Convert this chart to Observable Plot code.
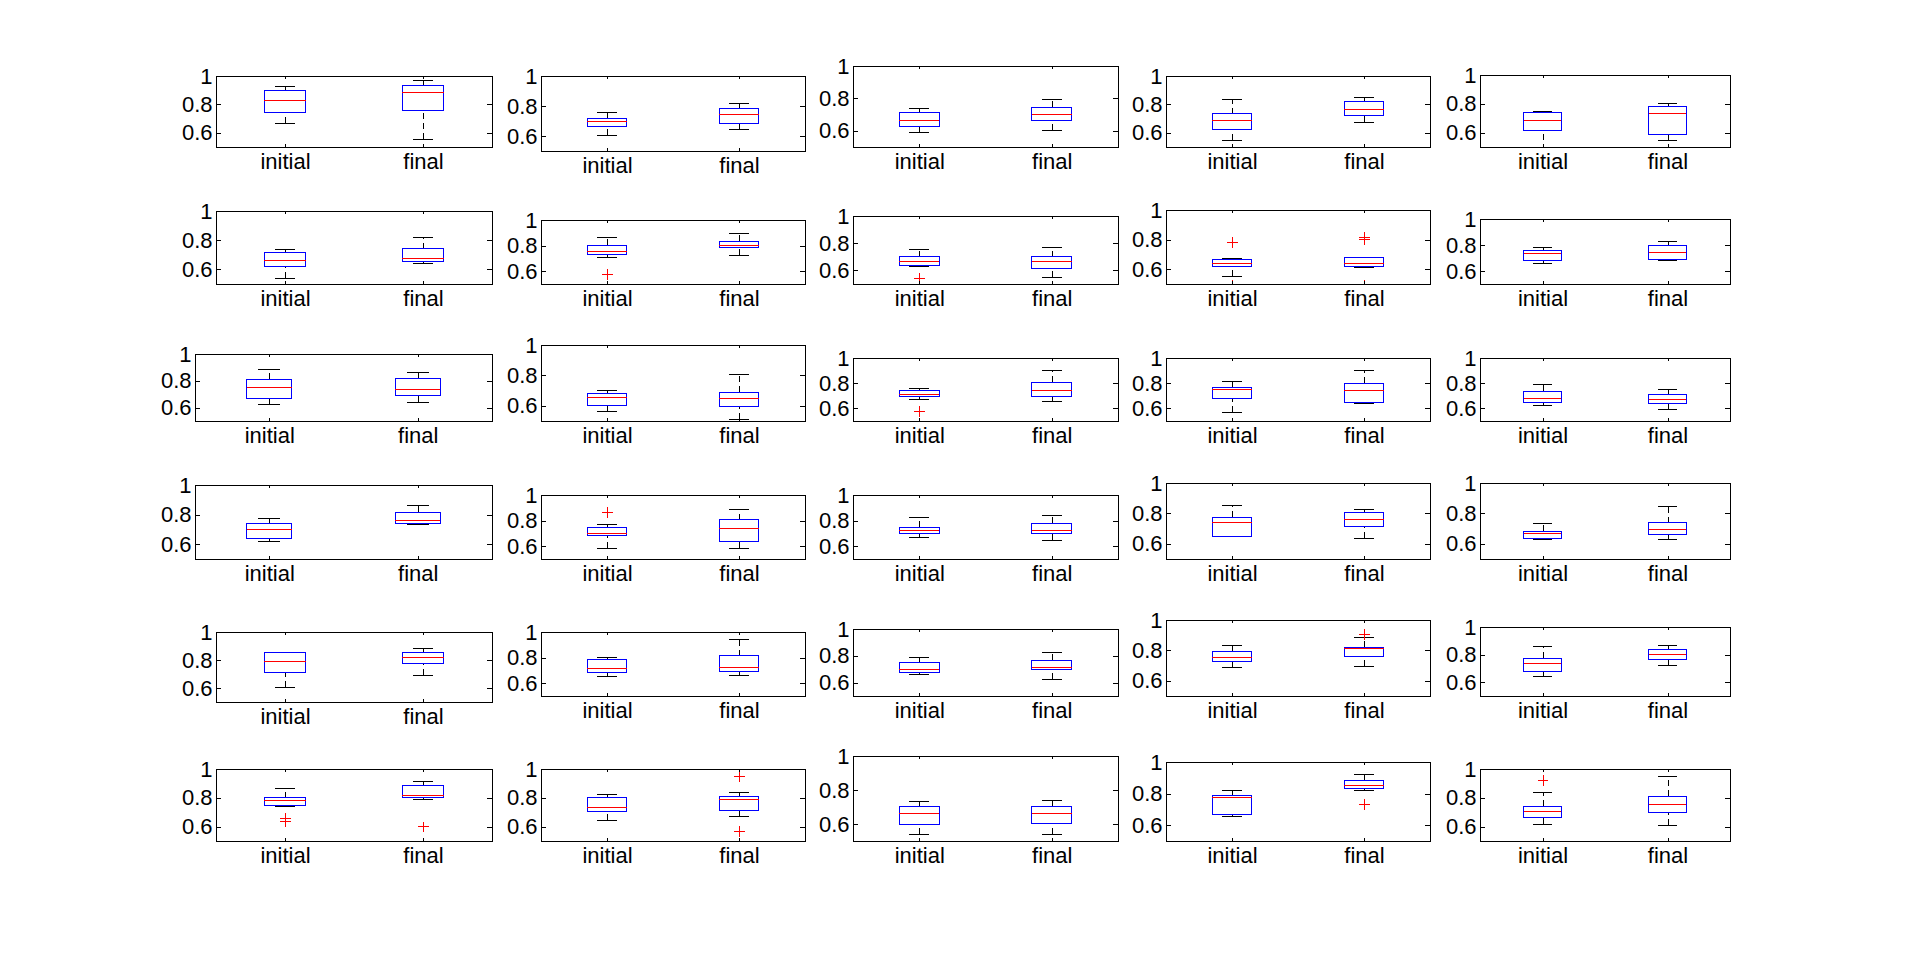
<!DOCTYPE html>
<html><head><meta charset="utf-8">
<script src="https://cdn.jsdelivr.net/npm/d3@7"></script>
<script src="https://cdn.jsdelivr.net/npm/@observablehq/plot@0.6"></script>
<style>
html,body{margin:0;padding:0;background:#fff;}
#fig{position:relative;width:1920px;height:964px;background:#fff;overflow:hidden;}
#fig svg{position:absolute;overflow:visible;}
</style></head><body><div id="fig"></div>
<script>
// ---------- DATA (30 panels, row-major 6 rows x 5 cols) ----------
const categories = ["initial", "final"];
const yTicks = [0.6, 0.8, 1];
const yDomain = [0.5, 1];

const initLow = [0.667,0.604,0.592,0.547,0.480, 0.539,0.708,0.630,0.552,0.659, 0.624,0.564,0.672,0.569,0.624, 0.621,0.586,0.672,0.651,0.632, 0.610,0.653,0.662,0.689,0.643, 0.745,0.643,0.539,0.657,0.616];
const initQ1  = [0.740,0.664,0.629,0.621,0.618, 0.621,0.732,0.637,0.619,0.682, 0.669,0.603,0.696,0.680,0.648, 0.641,0.680,0.703,0.651,0.638, 0.710,0.684,0.677,0.728,0.679, 0.747,0.705,0.598,0.669,0.665];
const initMed = [0.828,0.698,0.666,0.691,0.688, 0.662,0.755,0.666,0.640,0.736, 0.751,0.656,0.712,0.751,0.680, 0.702,0.703,0.727,0.743,0.671, 0.795,0.715,0.699,0.754,0.737, 0.788,0.733,0.663,0.778,0.707];
const initQ3  = [0.898,0.718,0.715,0.733,0.743, 0.717,0.802,0.702,0.667,0.759, 0.811,0.682,0.743,0.767,0.735, 0.742,0.750,0.750,0.776,0.684, 0.852,0.785,0.751,0.794,0.773, 0.802,0.802,0.704,0.790,0.742];
const initHigh= [0.928,0.758,0.740,0.837,0.750, 0.737,0.870,0.754,0.673,0.782, 0.886,0.702,0.759,0.815,0.791, 0.776,0.773,0.828,0.855,0.737, 0.860,0.801,0.789,0.833,0.860, 0.871,0.829,0.733,0.822,0.840];

const finLow  = [0.556,0.644,0.605,0.677,0.551, 0.642,0.724,0.549,0.617,0.682, 0.639,0.511,0.656,0.640,0.593, 0.735,0.586,0.648,0.638,0.632, 0.695,0.661,0.624,0.695,0.722, 0.795,0.671,0.539,0.822,0.609];
const finQ1   = [0.758,0.684,0.662,0.719,0.590, 0.655,0.784,0.615,0.619,0.690, 0.692,0.596,0.696,0.648,0.640, 0.742,0.633,0.703,0.711,0.658, 0.774,0.692,0.699,0.761,0.766, 0.802,0.712,0.604,0.835,0.700];
const finMed  = [0.884,0.744,0.703,0.767,0.738, 0.678,0.802,0.666,0.640,0.744, 0.736,0.649,0.743,0.743,0.672, 0.762,0.742,0.727,0.763,0.697, 0.824,0.723,0.714,0.814,0.802, 0.816,0.795,0.663,0.854,0.756];
const finQ3   = [0.935,0.784,0.746,0.823,0.778, 0.740,0.833,0.702,0.680,0.797, 0.818,0.689,0.807,0.799,0.712, 0.816,0.805,0.781,0.809,0.737, 0.852,0.816,0.766,0.820,0.838, 0.885,0.809,0.704,0.886,0.812];
const finHigh = [0.974,0.818,0.795,0.851,0.806, 0.820,0.896,0.771,0.680,0.828, 0.868,0.807,0.902,0.902,0.751, 0.863,0.891,0.844,0.829,0.849, 0.888,0.948,0.826,0.886,0.867, 0.919,0.843,0.739,0.924,0.951];

// outliers: panel index, group (0 initial, 1 final), value
const outPanel = [6, 7, 7, 8, 8, 8, 8, 8, 12, 16, 23, 25, 25, 25, 26, 26, 28, 29];
const outGroup = [0, 0, 0, 0, 0, 1, 1, 1, 0,  0,  1,  0,  0,  1,  1,  1,  1,  0];
const outValue = [0.576,0.542,0.547,0.782,0.492,0.815,0.805,0.492,0.577,0.867,0.906,0.657,0.636,0.601,0.954,0.567,0.733,0.923];

// ---------- LAYOUT (frame rectangles in page pixels) ----------
const colLeft  = [216, 541, 853, 1166, 1480];
const colRight = [492, 805, 1118, 1430, 1730];
const col1LeftWide = 195; // rows 3 and 4
const panelTop = [76,76,66,76,75, 211,220,216,210,219, 354,345,358,358,358, 485,495,495,483,483, 632,632,629,620,627, 769,769,756,762,769];
const panelBottom = [147,151,147,147,147, 284,284,284,284,284, 421,421,421,421,421, 559,559,559,559,559, 702,696,696,696,696, 841,841,841,841,841];

const mL = 60, mR = 12, mT = 16, mB = 40;
const fig = document.getElementById("fig");
const crisp = {shapeRendering: "crispEdges"};

for (let i = 0; i < 30; i++) {
  const r = Math.floor(i / 5), c = i % 5;
  const left = (c === 0 && (r === 2 || r === 3)) ? col1LeftWide : colLeft[c];
  const right = colRight[c];
  const top = panelTop[i], bottom = panelBottom[i];
  const W = right - left, H = bottom - top;
  const dxTick = 2 * 5 / W;
  const dyTick = 0.5 * 3 / H;

  const boxes = [
    {x: 1, lo: initLow[i], q1: initQ1[i], med: initMed[i], q3: initQ3[i], hi: initHigh[i]},
    {x: 2, lo: finLow[i], q1: finQ1[i], med: finMed[i], q3: finQ3[i], hi: finHigh[i]}
  ];
  const outs = [];
  outPanel.forEach((p, k) => { if (p === i) outs.push({x: outGroup[k] + 1, y: outValue[k]}); });

  const svg = Plot.plot({
    width: W + mL + mR,
    height: H + mT + mB,
    marginLeft: mL, marginRight: mR, marginTop: mT, marginBottom: mB,
    style: {fontFamily: "'Liberation Sans', Arial, sans-serif", fontSize: "22px", background: "transparent", color: "black"},
    x: {domain: [0.5, 2.5]},
    y: {domain: yDomain},
    marks: [
      Plot.ruleX(boxes, {x: "x", y1: "q3", y2: "hi", stroke: "black", strokeDasharray: "6,4", clip: true, ...crisp}),
      Plot.ruleX(boxes, {x: "x", y1: "lo", y2: "q1", stroke: "black", strokeDasharray: "6,4", clip: true, ...crisp}),
      Plot.ruleY(boxes, {y: "hi", x1: d => d.x - 0.075, x2: d => d.x + 0.075, stroke: "black", clip: true, ...crisp}),
      Plot.ruleY(boxes, {y: "lo", x1: d => d.x - 0.075, x2: d => d.x + 0.075, stroke: "black", clip: true, ...crisp}),
      Plot.rect(boxes, {x1: d => d.x - 0.15, x2: d => d.x + 0.15, y1: "q1", y2: "q3", stroke: "#0000ff", fill: "none", clip: true, ...crisp}),
      Plot.ruleY(boxes, {y: "med", x1: d => d.x - 0.15, x2: d => d.x + 0.15, stroke: "#ff0000", clip: true, ...crisp}),
      Plot.dot(outs, {x: "x", y: "y", symbol: "plus", r: 3.6, stroke: "#ff0000", strokeWidth: 1, clip: true, ...crisp}),
      Plot.ruleY(yTicks, {y: d => d, x1: 0.5, x2: 0.5 + dxTick, stroke: "black", ...crisp}),
      Plot.ruleY(yTicks, {y: d => d, x1: 2.5, x2: 2.5 - dxTick, stroke: "black", ...crisp}),
      Plot.ruleX([1, 2], {x: d => d, y1: 1, y2: 1 - dyTick, stroke: "black", ...crisp}),
      Plot.ruleX([1, 2], {x: d => d, y1: 0.5, y2: 0.5 + dyTick, stroke: "black", ...crisp}),
      Plot.frame({stroke: "black", ...crisp}),
      Plot.axisY({ticks: yTicks, tickSize: 0, tickPadding: 4, tickFormat: d => String(d), label: null, fontSize: 22}),
      Plot.axisX({ticks: [1, 2], tickSize: 0, tickPadding: 6, tickFormat: d => categories[d - 1], label: null, fontSize: 22})
    ]
  });
  svg.style.left = (left - mL) + "px";
  svg.style.top = (top - mT) + "px";
  fig.appendChild(svg);
}
</script>
</body></html>
